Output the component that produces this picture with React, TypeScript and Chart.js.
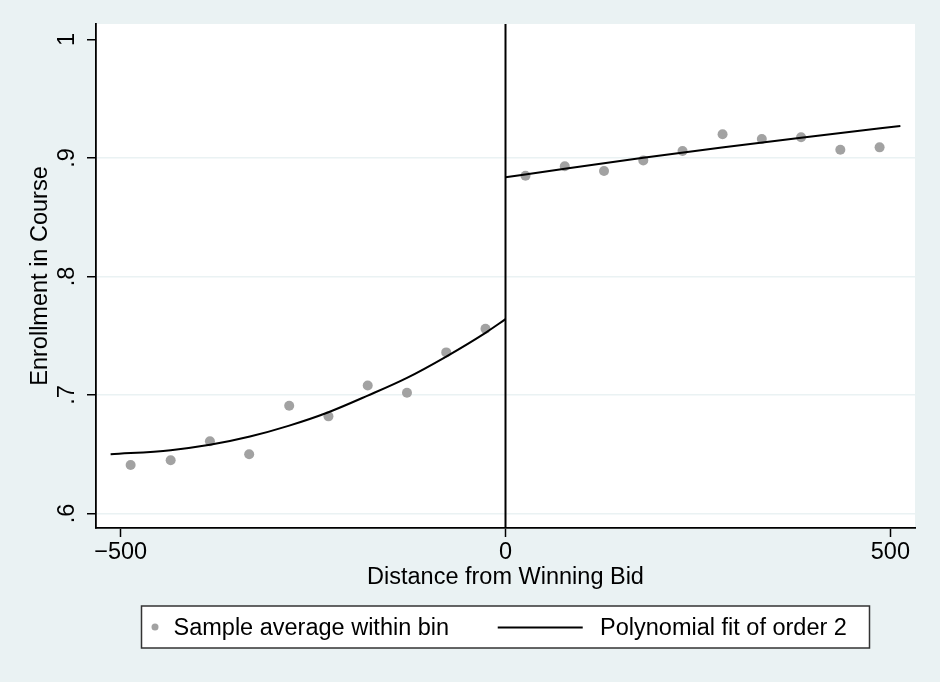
import React, { useEffect, useRef } from 'react';
import { Chart, registerables } from 'chart.js';

Chart.register(...registerables);

// ---------- data ----------
const X_TITLE = 'Distance from Winning Bid';
const Y_TITLE = 'Enrollment in Course';
const SCATTER_LABEL = 'Sample average within bin';
const FIT_LABEL = 'Polynomial fit of order 2';

const X_TICKS = [-500, 0, 500];
const X_TICK_LABELS = ['\u2212500', '0', '500'];
const Y_TICKS = [0.6, 0.7, 0.8, 0.9, 1];
const Y_TICK_LABELS = ['.6', '.7', '.8', '.9', '1'];
const X_MIN = -532;
const X_MAX = 532;
const Y_MIN = 0.5878;
const Y_MAX = 1.0131;
const CUTOFF = 0;

const BIN_X_LEFT = [-487, -435, -384, -333, -281, -230, -179, -128, -77, -26];
const BIN_Y_LEFT = [0.641, 0.645, 0.661, 0.650, 0.691, 0.682, 0.708, 0.702, 0.736, 0.756];
const BIN_X_RIGHT = [26, 77, 128, 179, 230, 282, 333, 384, 435, 486];
const BIN_Y_RIGHT = [0.885, 0.893, 0.889, 0.898, 0.906, 0.920, 0.916, 0.9175, 0.907, 0.909];

const FIT_X_LEFT = [-513, -435, -384, -332, -282, -230, -179, -128, -77, -26, 0];
const FIT_Y_LEFT = [0.650, 0.6535, 0.658, 0.665, 0.674, 0.6855, 0.6995, 0.7145, 0.7325, 0.7525, 0.764];
const FIT_X_RIGHT = [0, 77, 179, 281, 384, 487, 513];
const FIT_Y_RIGHT = [0.8837, 0.891, 0.9002, 0.9089, 0.9172, 0.9251, 0.927];

// ---------- styles ----------
const BG = '#EAF2F3';
const DOT = '#A2A2A2';
const INK = '#000000';
const FONT = "'Liberation Sans', Arial, Helvetica, sans-serif";
const FS = 23.5;

const pts = (xs: number[], ys: number[]) => xs.map((x, i) => ({ x, y: ys[i] }));

const stataPlugin = {
  id: 'stataLook',
  beforeDraw(chart: any) {
    const { ctx, chartArea: a, width, height } = chart;
    ctx.save();
    ctx.fillStyle = BG;
    ctx.fillRect(0, 0, width, height);
    ctx.fillStyle = '#FFFFFF';
    ctx.fillRect(a.left, a.top, a.right - a.left, a.bottom - a.top);
    ctx.restore();
  },
  afterDatasetsDraw(chart: any) {
    const { ctx, chartArea: a } = chart;
    const x = chart.scales.x.getPixelForValue(CUTOFF);
    ctx.save();
    ctx.strokeStyle = INK;
    ctx.lineWidth = 2;
    ctx.beginPath();
    ctx.moveTo(x, a.top);
    ctx.lineTo(x, a.bottom);
    ctx.stroke();
    ctx.restore();
  },
  afterDraw(chart: any) {
    const { ctx, chartArea: a } = chart;
    const ds = chart.data.datasets;
    ctx.save();
    ctx.font = `${FS}px ${FONT}`;
    const t1 = ds[0].label as string;
    const t2 = ds[1].label as string;
    const w1 = ctx.measureText(t1).width;
    const w2 = ctx.measureText(t2).width;
    const padL = 10, dotD = 7, gapDot = 15, gapMid = 48.6, lineLen = 85, gapLine = 17.3, padR = 22.6;
    const boxW = padL + dotD + gapDot + w1 + gapMid + lineLen + gapLine + w2 + padR;
    const boxH = 42;
    const cx = (a.left + a.right) / 2;
    const left = cx - boxW / 2;
    const top = a.bottom + 78;
    const midY = top + boxH / 2;
    ctx.fillStyle = '#FFFFFF';
    ctx.fillRect(left, top, boxW, boxH);
    ctx.strokeStyle = '#333333';
    ctx.lineWidth = 1.5;
    ctx.strokeRect(left, top, boxW, boxH);
    // marker
    let x = left + padL;
    ctx.fillStyle = ds[0].pointBackgroundColor;
    ctx.beginPath();
    ctx.arc(x + dotD / 2, midY, dotD / 2, 0, Math.PI * 2);
    ctx.fill();
    x += dotD + gapDot;
    ctx.fillStyle = INK;
    ctx.textBaseline = 'alphabetic';
    ctx.textAlign = 'left';
    ctx.fillText(t1, x, midY + 8.4);
    x += w1 + gapMid;
    ctx.strokeStyle = ds[1].borderColor;
    ctx.lineWidth = 2;
    ctx.beginPath();
    ctx.moveTo(x, midY + 0.5);
    ctx.lineTo(x + lineLen, midY + 0.5);
    ctx.stroke();
    x += lineLen + gapLine;
    ctx.fillText(t2, x, midY + 8.4);
    ctx.restore();
  },
};

export default function App() {
  const ref = useRef<HTMLCanvasElement>(null);

  useEffect(() => {
    document.body.style.margin = '0';
    const canvas = ref.current!;
    Chart.defaults.font.family = FONT;
    Chart.defaults.font.size = FS;
    Chart.defaults.color = INK;

    const chart = new Chart(canvas, {
      type: 'scatter',
      data: {
        datasets: [
          {
            label: SCATTER_LABEL,
            data: [...pts(BIN_X_LEFT, BIN_Y_LEFT), ...pts(BIN_X_RIGHT, BIN_Y_RIGHT)],
            pointRadius: 5,
            pointBackgroundColor: DOT,
            pointBorderWidth: 0,
            borderColor: DOT,
            showLine: false,
            order: 2,
          } as any,
          {
            label: FIT_LABEL,
            data: pts(FIT_X_LEFT, FIT_Y_LEFT),
            showLine: true,
            pointRadius: 0,
            borderColor: INK,
            borderWidth: 2,
            cubicInterpolationMode: 'monotone',
            order: 1,
          } as any,
          {
            label: FIT_LABEL,
            data: pts(FIT_X_RIGHT, FIT_Y_RIGHT),
            showLine: true,
            pointRadius: 0,
            borderColor: INK,
            borderWidth: 2,
            cubicInterpolationMode: 'monotone',
            order: 1,
          } as any,
        ],
      },
      options: {
        responsive: false,
        animation: false,
        devicePixelRatio: 1,
        layout: { padding: { left: 0, right: 25, top: 24, bottom: 90 } },
        plugins: {
          legend: { display: false },
          tooltip: { enabled: false },
        },
        scales: {
          x: {
            type: 'linear',
            min: X_MIN,
            max: X_MAX,
            afterBuildTicks: (s: any) => {
              s.ticks = X_TICKS.map((v) => ({ value: v }));
            },
            afterFit: (s: any) => {
              s.height = 64;
            },
            ticks: {
              autoSkip: false,
              maxRotation: 0,
              minRotation: 0,
              padding: 1,
              color: INK,
              font: { size: FS, family: FONT },
              callback: (_v: any, i: number) => X_TICK_LABELS[i],
            },
            grid: {
              drawOnChartArea: false,
              drawTicks: true,
              tickLength: 9,
              tickColor: INK,
              tickWidth: 1.5,
            },
            border: { display: true, color: INK, width: 1.8 },
            title: {
              display: true,
              text: X_TITLE,
              color: INK,
              font: { size: FS, family: FONT },
              padding: { top: 0, bottom: 0 },
            },
          },
          y: {
            type: 'linear',
            min: Y_MIN,
            max: Y_MAX,
            afterBuildTicks: (s: any) => {
              s.ticks = Y_TICKS.map((v) => ({ value: v }));
            },
            afterFit: (s: any) => {
              s.width = 96;
            },
            ticks: {
              autoSkip: false,
              minRotation: 90,
              maxRotation: 90,
              crossAlign: 'center',
              padding: 9.5,
              color: INK,
              font: { size: FS, family: FONT },
              callback: (_v: any, i: number) => Y_TICK_LABELS[i],
            },
            grid: {
              drawOnChartArea: true,
              drawTicks: true,
              tickLength: 9,
              tickColor: INK,
              tickWidth: 1.5,
              lineWidth: 1.5,
              color: (c: any) =>
                c.tick && c.tick.value === Y_TICKS[Y_TICKS.length - 1] ? 'rgba(0,0,0,0)' : BG,
            },
            border: { display: true, color: INK, width: 1.8 },
            title: {
              display: true,
              text: Y_TITLE,
              color: INK,
              font: { size: FS, family: FONT },
              padding: { top: 26.3, bottom: 0 },
            },
          },
        },
      } as any,
      plugins: [stataPlugin],
    });

    return () => chart.destroy();
  }, []);

  return (
    <div style={{ width: 940, height: 682 }}>
      <canvas ref={ref} width={940} height={682} style={{ display: 'block' }} />
    </div>
  );
}
